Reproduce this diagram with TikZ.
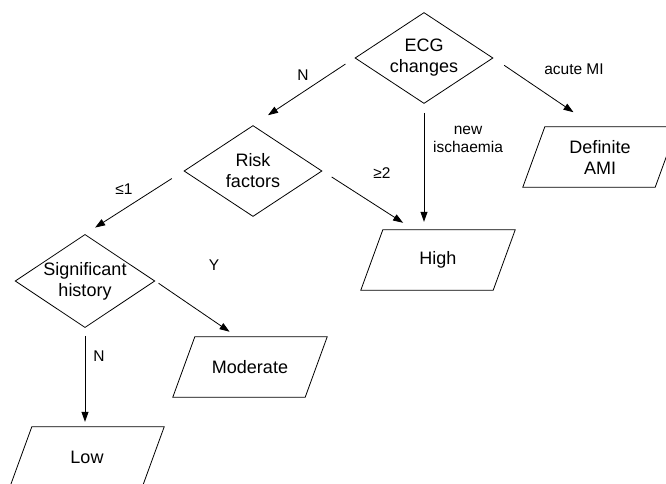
\documentclass[tikz,border=0pt]{standalone}
\usepackage{fontspec}
\setmainfont{Liberation Sans}
\usepackage{tikz}
\usetikzlibrary{shapes.geometric}
\usetikzlibrary{arrows.meta}

\begin{document}
\begin{tikzpicture}[x=1pt,y=-1pt,
  query/.style={draw,diamond,aspect=1.5,inner sep=0pt,line width=0.8pt,
    minimum width=138pt,minimum height=91pt,align=center,
    font=\fontsize{18}{21}\selectfont},
  outcome/.style={rectangle,minimum width=132pt,minimum height=60pt,
    inner sep=2pt,align=center,font=\fontsize{18}{21}\selectfont,
    append after command={\pgfextra{\draw[line width=0.8pt]
      ([xshift=11pt]\tikzlastnode.north west)
      --
      ([xshift=11pt]\tikzlastnode.north east)
      --
      ([xshift=-11pt]\tikzlastnode.south east)
      --
      ([xshift=-11pt]\tikzlastnode.south west)
      --
      cycle;}}},
  answer/.style={align=center,inner sep=0pt,
    font=\fontsize{15.5}{18}\selectfont},
  branch/.style={-{Triangle[length=10pt,width=7pt]},line width=0.8pt}]
  \useasboundingbox
    (0,0)
    rectangle
    (666,483);
  \node[query] (ecg) at (424,58) {ECG\\changes};
  \node[query] (risk) at (253,171) {Risk\\factors};
  \node[query] (hist) at (85,281) {Significant\\history};
  \node[outcome] (ami) at (600,157) {Definite\\AMI};
  \node[outcome] (high) at (438,260) {High};
  \node[outcome] (moderate) at (250,367) {Moderate};
  \node[outcome] (low) at (87,457) {Low};
  \draw[branch,shorten <=11pt,shorten >=18pt]
    (ecg.west)
    --
    (risk.north);
  \draw[branch,shorten <=13pt,shorten >=26pt]
    (ecg.east)
    --
    ([xshift=-5pt]ami.north);
  \draw[branch,shorten <=9pt,shorten >=8pt]
    (ecg.south)
    --
    (ecg.south |- high.north);
  \draw[branch,shorten <=11pt,shorten >=13pt]
    (risk.east)
    --
    ([xshift=-24pt]high.north);
  \draw[branch,shorten <=14pt,shorten >=12pt]
    (risk.west)
    --
    (hist.north);
  \draw[branch,shorten <=4pt,shorten >=9pt]
    (hist.east)
    --
    ([xshift=-13pt]moderate.north);
  \draw[branch,shorten <=8pt,shorten >=5pt]
    (hist.south)
    --
    (hist.south |- low.north);
  \node[answer] (ecgno) at (303,75) {N};
  \node[answer] (acute) at (574,69) {acute MI};
  \node[answer] (ischaemia) at (468,139) {new\\ischaemia};
  \node[answer] (many) at (382,173) {≥2};
  \node[answer] (few) at (124,189) {≤1};
  \node[answer] (histyes) at (214,265) {Y};
  \node[answer] (histno) at (99,356) {N};
\end{tikzpicture}
\end{document}
